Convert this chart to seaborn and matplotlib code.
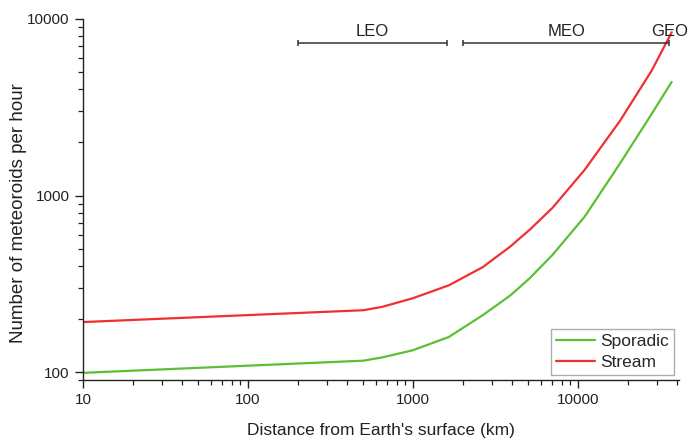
import matplotlib
matplotlib.use("Agg")
import matplotlib.pyplot as plt
import matplotlib.ticker as mticker
import pandas as pd
import seaborn as sns

# distance (km) sampled along the curves
distance = [10, 500, 650, 1000, 1650, 2650, 3900, 5100, 7000, 11000, 18000, 28000, 37000]
sporadic = [99, 116, 121, 133, 158, 210, 272, 340, 460, 760, 1520, 2900, 4400]
stream = [192, 224, 234, 262, 310, 393, 515, 640, 850, 1400, 2650, 5100, 8400]

# orbit regions (km)
orbit_names = ["LEO", "MEO"]
orbit_start = [200, 2000]
orbit_end = [1600, 35786]
geo_alt = 35786

df = pd.DataFrame({
    "distance": distance * 2,
    "count": sporadic + stream,
    "type": ["Sporadic"] * len(distance) + ["Stream"] * len(distance),
})

sns.set_style("ticks")
plt.rcParams["font.family"] = ["Liberation Sans", "DejaVu Sans"]

fig = plt.figure(figsize=(6.89, 4.41), dpi=100)
ax = fig.add_axes([0.1205, 0.138, 0.865, 0.819])

sns.lineplot(data=df, x="distance", y="count", hue="type",
             palette={"Sporadic": "#5cbf35", "Stream": "#f03030"},
             linewidth=1.6, ax=ax)

ax.set_xscale("log")
ax.set_yscale("log")
ax.set_xlim(10, 41000)
ax.set_ylim(90, 10000)

fmt = mticker.FuncFormatter(lambda v, p: "%d" % v)
ax.xaxis.set_major_formatter(fmt)
ax.yaxis.set_major_formatter(fmt)
ax.xaxis.set_minor_formatter(mticker.NullFormatter())
ax.yaxis.set_minor_formatter(mticker.NullFormatter())
ax.set_xticks([10, 100, 1000, 10000])
ax.set_yticks([100, 1000, 10000])

ax.tick_params(which="major", direction="out", length=6, width=1.0,
               labelsize=11, color="#222222", labelcolor="#222222")
ax.tick_params(which="minor", direction="out", length=3.5, width=0.9,
               color="#222222")
for s in ["left", "bottom"]:
    ax.spines[s].set_linewidth(1.0)
    ax.spines[s].set_color("#222222")
sns.despine(ax=ax)

ax.set_xlabel("Distance from Earth's surface (km)", fontsize=12.5, color="#222222")
ax.set_ylabel("Number of meteoroids per hour", fontsize=13.5, color="#222222")
ax.xaxis.set_label_coords(0.5, -0.118)
ax.yaxis.set_label_coords(-0.094, 0.463)

# orbit range bars
bar_y = 7300
for name, a, b in zip(orbit_names, orbit_start, orbit_end):
    ax.plot([a, b], [bar_y, bar_y], color="#333333", lw=1.1, solid_capstyle="butt")
    ax.plot([a, b], [bar_y, bar_y], ls="none", marker="|", ms=5, mew=1.1,
            color="#333333")
    mid = (a * b) ** 0.5
    if name == "MEO":
        mid = 8500
    ax.annotate(name, (mid, bar_y), xytext=(0, 3), textcoords="offset points",
                ha="center", va="bottom", fontsize=12, color="#222222")
ax.annotate("GEO", (geo_alt, bar_y), xytext=(0, 3), textcoords="offset points",
            ha="center", va="bottom", fontsize=12, color="#222222",
            annotation_clip=False)

leg = ax.legend(loc="lower right", fontsize=12.5, frameon=True, fancybox=False,
                handlelength=2.2, borderpad=0.3, labelspacing=0.3,
                handletextpad=0.3, borderaxespad=0.3, title=None)
leg.get_frame().set_edgecolor("#999999")
leg.get_frame().set_linewidth(1.0)

fig.savefig("out.png", dpi=100)
